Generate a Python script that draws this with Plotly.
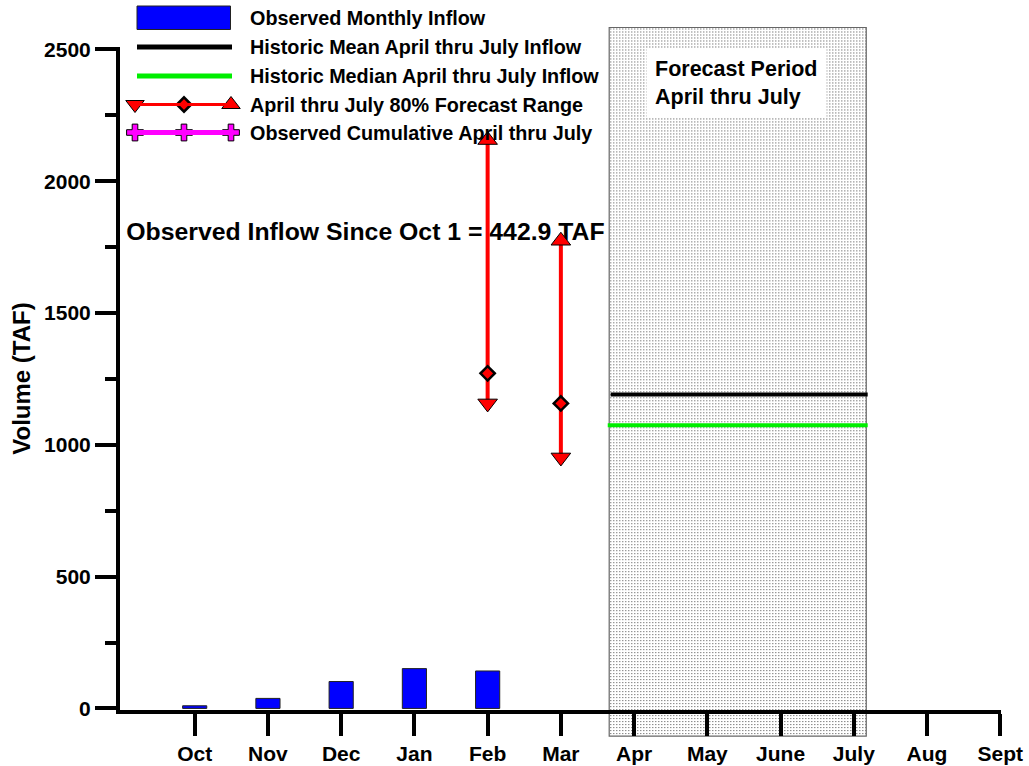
import base64
import plotly.graph_objects as go

# ---------------- data ----------------
months = ["Oct", "Nov", "Dec", "Jan", "Feb", "Mar", "Apr", "May", "June", "July", "Aug", "Sept"]
obs_months = ["Oct", "Nov", "Dec", "Jan", "Feb"]
obs_inflow = [10, 38, 102, 151, 142]

fc_months = ["Feb", "Mar"]
fc_high = [2156, 1774]
fc_median = [1271, 1157]
fc_low = [1157, 952]

hist_mean = 1191
hist_median = 1074
period_span = [5.66, 9.17]       # forecast period (month index units)
line_span = [5.68, 9.19]
period_y = [-105, 2583]

total_label = "Observed Inflow Since Oct 1 = 442.9 TAF"

legend_labels = [
    "Observed Monthly Inflow",
    "Historic Mean April thru July Inflow",
    "Historic Median April thru July Inflow",
    "April thru July 80% Forecast Range",
    "Observed Cumulative April thru July",
]

FONT = "Liberation Sans, Arial, sans-serif"
idx = {m: i for i, m in enumerate(months)}

# plot area in pixels
L, R, T, B = 120, 1001, 47, 710
W, H = 1029, 766
XR = [-1.02, 11.01]
YR = [-6, 2509]


def px(x):
    return (x - L) / (R - L)


def py(y):
    return (B - y) / (B - T)


def dx(v):  # data x -> paper
    return (v - XR[0]) / (XR[1] - XR[0])


def dy(v):  # data y -> paper
    return (v - YR[0]) / (YR[1] - YR[0])


fig = go.Figure()

# observed monthly inflow bars
fig.add_trace(go.Bar(
    x=[idx[m] for m in obs_months], y=obs_inflow, width=0.33,
    marker=dict(color="#0000ff", line=dict(color="#222222", width=1)),
    showlegend=False,
))

# big label (drawn below the forecast arrows)
fig.add_trace(go.Scatter(
    x=[-0.935], y=[1799], mode="text", text=[total_label], textposition="middle right",
    textfont=dict(family=FONT, size=24.8, color="black", weight="bold"),
    cliponaxis=False, showlegend=False, hoverinfo="skip",
))

# historic mean / median lines
fig.add_trace(go.Scatter(x=line_span, y=[hist_mean, hist_mean], mode="lines",
                         line=dict(color="black", width=4), showlegend=False))
fig.add_trace(go.Scatter(x=[period_span[0] - 0.02, line_span[1]], y=[hist_median, hist_median], mode="lines",
                         line=dict(color="#00ee00", width=4), showlegend=False))

# forecast ranges
for m, hi, md, lo in zip(fc_months, fc_high, fc_median, fc_low):
    xi = idx[m]
    fig.add_trace(go.Scatter(x=[xi, xi], y=[lo, hi], mode="lines",
                             line=dict(color="#ff0000", width=4), showlegend=False))
    fig.add_trace(go.Scatter(x=[xi], y=[hi], mode="markers",
                             marker=dict(symbol="triangle-up", size=17, color="#ff0000",
                                         line=dict(color="black", width=1)),
                             cliponaxis=False, showlegend=False))
    fig.add_trace(go.Scatter(x=[xi], y=[lo], mode="markers",
                             marker=dict(symbol="triangle-down", size=17, color="#ff0000",
                                         line=dict(color="black", width=1)),
                             cliponaxis=False, showlegend=False))
    fig.add_trace(go.Scatter(x=[xi], y=[md], mode="markers",
                             marker=dict(symbol="diamond", size=11, color="#ff0000",
                                         line=dict(color="black", width=2.5)),
                             cliponaxis=False, showlegend=False))

# ---------------- forecast period box (dotted stipple image below everything) ----------------
bx0, bx1 = dx(period_span[0]), dx(period_span[1])
by0, by1 = dy(period_y[0]), dy(period_y[1])
wpx = round((bx1 - bx0) * (R - L))
hpx = round((by1 - by0) * (B - T))
svg = (
    f'<svg xmlns="http://www.w3.org/2000/svg" width="{wpx}" height="{hpx}" viewBox="0 0 {wpx} {hpx}">'
    '<defs><pattern id="p" width="3" height="3" patternUnits="userSpaceOnUse">'
    '<rect width="3" height="3" fill="#ffffff"/><rect x="1" y="1" width="1" height="1" fill="#444444"/>'
    '</pattern></defs>'
    f'<rect width="{wpx}" height="{hpx}" fill="url(#p)"/></svg>'
)
src = "data:image/svg+xml;base64," + base64.b64encode(svg.encode()).decode()
images = [dict(source=src, xref="paper", yref="paper", x=bx0, y=by1, sizex=bx1 - bx0, sizey=by1 - by0,
               xanchor="left", yanchor="top", sizing="stretch", layer="below")]

shapes = []
shapes.append(dict(type="rect", xref="paper", yref="paper", x0=bx0, x1=bx1, y0=by0, y1=by1,
                   line=dict(color="#666666", width=1.2), fillcolor="rgba(0,0,0,0)", layer="below"))

# ---------------- manual legend ----------------
annotations = []
row_y = [18, 47, 76, 104.5, 132.5]
sx0, sx1, smid = 135, 232, 184
shapes.append(dict(type="rect", xref="paper", yref="paper", x0=px(137), x1=px(230.5), y0=py(29.5), y1=py(6),
                   fillcolor="#0000ff", line=dict(color="#222222", width=1), layer="above"))
shapes.append(dict(type="line", xref="paper", yref="paper", x0=px(sx0 + 2), x1=px(sx1), y0=py(row_y[1]), y1=py(row_y[1]),
                   line=dict(color="black", width=5), layer="above"))
shapes.append(dict(type="line", xref="paper", yref="paper", x0=px(sx0 + 2), x1=px(sx1), y0=py(row_y[2]), y1=py(row_y[2]),
                   line=dict(color="#00ee00", width=5), layer="above"))
shapes.append(dict(type="line", xref="paper", yref="paper", x0=px(sx0), x1=px(sx1), y0=py(row_y[3]), y1=py(row_y[3]),
                   line=dict(color="#ff0000", width=3), layer="above"))
shapes.append(dict(type="line", xref="paper", yref="paper", x0=px(sx0), x1=px(sx1), y0=py(row_y[4]), y1=py(row_y[4]),
                   line=dict(color="#ff00ff", width=5), layer="above"))

for txt, yy in zip(legend_labels, row_y):
    annotations.append(dict(xref="paper", yref="paper", x=px(248), y=py(yy), text=txt, showarrow=False,
                            xanchor="left", yanchor="middle",
                            font=dict(family=FONT, size=19.8, color="black", weight="bold")))

# legend markers on a pixel-space overlay axis
fig.add_trace(go.Scatter(x=[sx0], y=[row_y[3]], xaxis="x2", yaxis="y2", mode="markers",
                         marker=dict(symbol="triangle-down", size=16, color="#ff0000", line=dict(color="black", width=1)),
                         cliponaxis=False, showlegend=False, hoverinfo="skip"))
fig.add_trace(go.Scatter(x=[smid], y=[row_y[3]], xaxis="x2", yaxis="y2", mode="markers",
                         marker=dict(symbol="diamond", size=11, color="#ff0000", line=dict(color="black", width=2.5)),
                         cliponaxis=False, showlegend=False, hoverinfo="skip"))
fig.add_trace(go.Scatter(x=[sx1 - 1], y=[row_y[3]], xaxis="x2", yaxis="y2", mode="markers",
                         marker=dict(symbol="triangle-up", size=16, color="#ff0000", line=dict(color="black", width=1)),
                         cliponaxis=False, showlegend=False, hoverinfo="skip"))
fig.add_trace(go.Scatter(x=[sx0, smid, sx1 - 1], y=[row_y[4]] * 3, xaxis="x2", yaxis="y2", mode="markers",
                         marker=dict(symbol="cross", size=14, color="#ff00ff", line=dict(color="black", width=1)),
                         cliponaxis=False, showlegend=False, hoverinfo="skip"))

# forecast period label
annotations.append(dict(xref="paper", yref="paper", x=px(646), y=py(48), text="Forecast Period<br>April thru July",
                        showarrow=False, xanchor="left", yanchor="top", align="left",
                        bgcolor="white", borderpad=8,
                        font=dict(family=FONT, size=21.5, color="black", weight="bold")))

fig.update_layout(
    width=W, height=H,
    margin=dict(l=L, r=W - R, t=T, b=H - B, pad=0, autoexpand=False),
    plot_bgcolor="rgba(0,0,0,0)", paper_bgcolor="white",
    barmode="overlay",
    shapes=shapes, annotations=annotations, images=images,
    showlegend=False,
    xaxis=dict(range=XR, tickvals=list(range(12)), ticktext=months, automargin=False,
               showgrid=False, zeroline=False, showline=True, linecolor="black", linewidth=4,
               ticks="outside", ticklen=22, tickwidth=4, tickcolor="black",
               tickfont=dict(family=FONT, size=21, color="black", weight="bold"), layer="above traces"),
    yaxis=dict(range=YR, tickvals=[0, 500, 1000, 1500, 2000, 2500], automargin=False,
               showgrid=False, zeroline=False, showline=True, linecolor="black", linewidth=4,
               ticks="outside", ticklen=21, tickwidth=4, tickcolor="black",
               minor=dict(tickvals=[250, 750, 1250, 1750, 2250], ticks="outside", ticklen=11, tickwidth=4, tickcolor="black"),
               tickfont=dict(family=FONT, size=21, color="black", weight="bold"),
               title=dict(text="Volume (TAF)", font=dict(family=FONT, size=24, color="black", weight="bold"), standoff=8),
               layer="above traces"),
    xaxis2=dict(overlaying="x", anchor="y2", range=[L, R], visible=False, automargin=False),
    yaxis2=dict(overlaying="y", anchor="x2", range=[B, T], visible=False, automargin=False),
)

fig.write_html("out.html", config={"displayModeBar": False},
               post_script="document.body.style.margin='0';document.body.style.padding='0';")
